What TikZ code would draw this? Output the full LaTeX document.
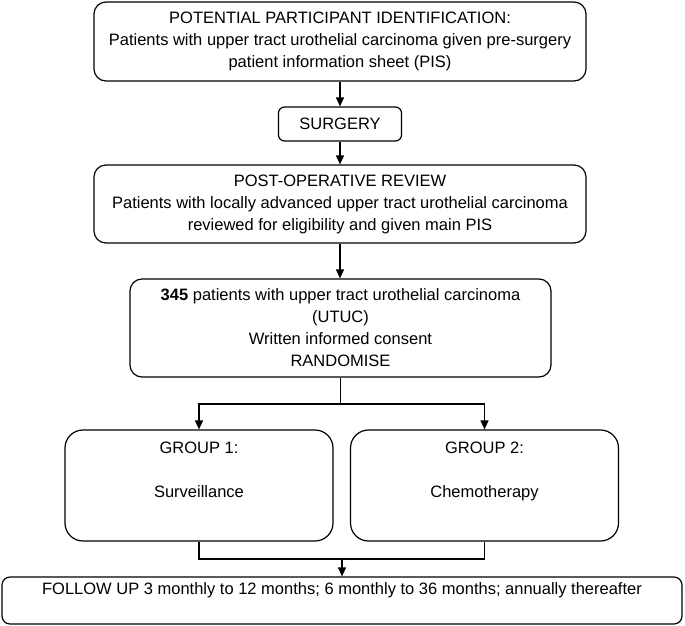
\documentclass[tikz,border=0pt]{standalone}
\usepackage{fontspec}
\setmainfont{Liberation Sans}
\usetikzlibrary{arrows.meta}
\tikzstyle{box} = [draw, line width=1.2pt, rounded corners=12pt, align=center, inner sep=0pt, font=\fontsize{16.5}{22}\selectfont]
\tikzstyle{wire} = [line width=1.2pt]
\tikzstyle{link} = [line width=1.2pt, -{Triangle[length=9pt,width=8pt]}]

\begin{document}
\begin{tikzpicture}[x=1pt, y=-1pt]
                \useasboundingbox (0,0) rectangle (685,625);

                \node[box, minimum width=492pt, minimum height=79pt] (ident) at (340,41.5) {POTENTIAL PARTICIPANT IDENTIFICATION:\\Patients with upper tract urothelial carcinoma given pre-surgery\\patient information sheet (PIS)};
                \node[box, rounded corners=6pt, minimum width=123pt, minimum height=34pt] (surgery) at (340,124) {SURGERY};
                \node[box, minimum width=492pt, minimum height=78pt] (review) at (340,204) {POST-OPERATIVE REVIEW\\Patients with locally advanced upper tract urothelial carcinoma\\reviewed for eligibility and given main PIS};
                \node[box, minimum width=421pt, minimum height=98pt] (randomise) at (340.5,328) {\textbf{345} patients with upper tract urothelial carcinoma\\(UTUC)\\Written informed consent\\RANDOMISE};

                \foreach \x/\n/\t in {199/1/Surveillance, 484.5/2/Chemotherapy} {
                    \node[box, rounded corners=18pt] (group\n) at (\x,485.5) {\parbox[c][111pt][t]{268pt}{\centering\rule{0pt}{23pt}GROUP \n:\\[22pt]\t}};
                }

                \node[box, rounded corners=8pt] (followup) at (342,600.5) {\parbox[c][47pt][t]{680pt}{\centering\rule{0pt}{17pt}FOLLOW UP 3 monthly to 12 months; 6 monthly to 36 months; annually thereafter}};

                \draw[link] (ident) -- (surgery);
                \draw[link] (surgery) -- (review);
                \draw[link] (review.south) -- (review.south |- randomise.north);

                \coordinate (split) at (340.5,404);
                \draw[wire] (randomise.south) -- (split);
                \draw[link] (split) -| (group1.north);
                \draw[link] (split) -| (group2.north);

                \coordinate (merge) at (342,559);
                \draw[wire] (group1.south) |- (merge) -| (group2.south);
                \draw[link] (merge) -- (followup.north);
            \end{tikzpicture}
\end{document}
